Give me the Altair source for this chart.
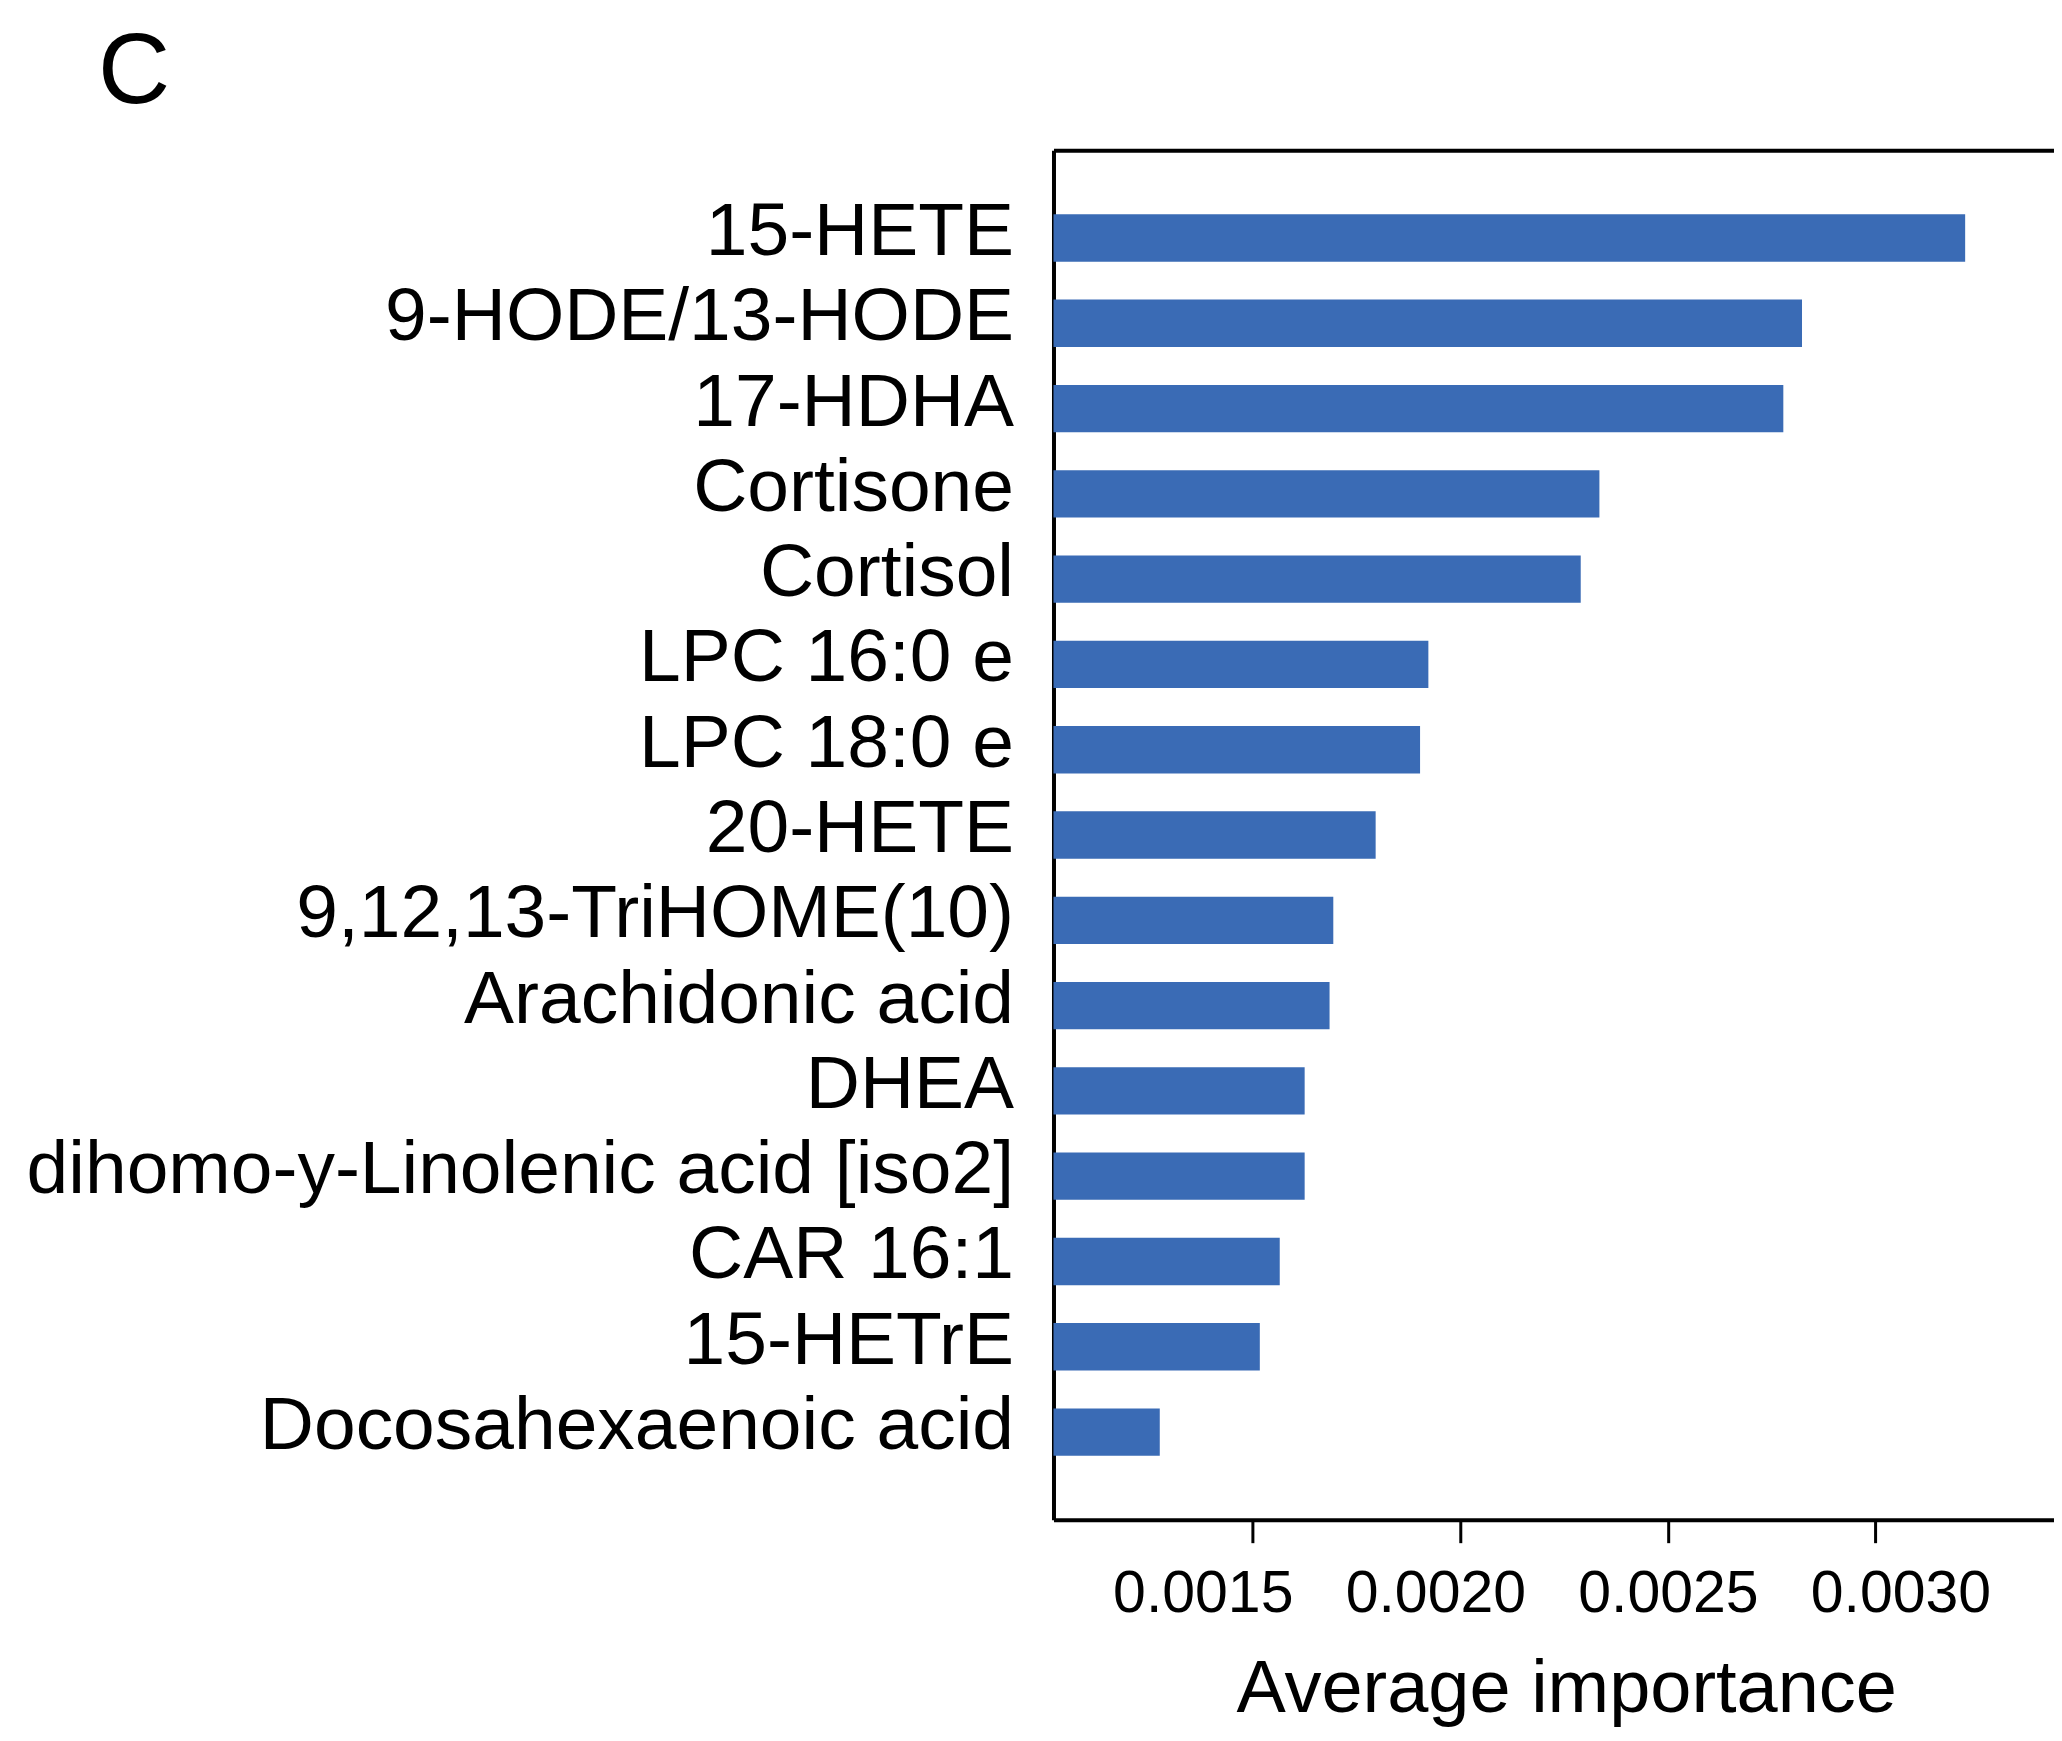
import altair as alt
import pandas as pd

compounds = [
    "15-HETE",
    "9-HODE/13-HODE",
    "17-HDHA",
    "Cortisone",
    "Cortisol",
    "LPC 16:0 e",
    "LPC 18:0 e",
    "20-HETE",
    "9,12,13-TriHOME(10)",
    "Arachidonic acid",
    "DHEA",
    "dihomo-y-Linolenic acid [iso2]",
    "CAR 16:1",
    "15-HETrE",
    "Docosahexaenoic acid",
]
importance = [
    0.003216, 0.002823, 0.002778, 0.002335, 0.002290,
    0.001923, 0.001903, 0.001796, 0.001694, 0.001685,
    0.001625, 0.001625, 0.001565, 0.001517, 0.001276,
]
tick_values = [0.0015, 0.0020, 0.0025, 0.0030]
x_domain = [0.00102, 0.00343]

df = pd.DataFrame({"compound": compounds, "importance": importance})

FONT = "Liberation Sans"
W, H = 1001, 1370

y_enc = alt.Y(
    "compound:N",
    sort=compounds,
    scale=alt.Scale(paddingInner=0.445, paddingOuter=0.75),
    axis=alt.Axis(
        title=None, ticks=False, labelFontSize=75, labelFont=FONT,
        labelColor="black", labelPadding=40, labelLimit=3000,
        domainColor="black", domainWidth=4, labelBaseline="middle",
        labelOffset=-6,
    ),
)

# tick labels in the reference are spread slightly wider than the ticks
label_offset = {
    "condition": [
        {"test": "datum.value < 0.00175", "value": -50},
        {"test": "datum.value < 0.00225", "value": -25},
        {"test": "datum.value > 0.00275", "value": 25},
    ],
    "value": 0,
}

bars = alt.Chart(df).mark_bar(color="#3A6BB5").encode(
    x=alt.X(
        "importance:Q",
        scale=alt.Scale(domain=x_domain, zero=False, nice=False),
        axis=alt.Axis(
            orient="bottom", values=tick_values, format=".4f",
            title="Average importance", titleFontSize=74, titleFont=FONT,
            titleFontWeight="normal", titleColor="black",
            titleX=513, titleY=192, titleBaseline="alphabetic", titleAlign="center",
            labelFontSize=59, labelFont=FONT, labelColor="black", labelLimit=1000,
            labelOffset=label_offset,
            tickSize=23, tickWidth=3, tickColor="black", labelPadding=22,
            domainColor="black", domainWidth=4, grid=False, labelFlush=False,
        ),
    ),
    x2=alt.datum(x_domain[0]),
    y=y_enc,
)

top_axis = alt.Chart(df).mark_bar(opacity=0).encode(
    x=alt.X(
        "importance:Q",
        scale=alt.Scale(domain=x_domain, zero=False, nice=False),
        axis=alt.Axis(
            orient="top", labels=False, ticks=False, title=None,
            domainColor="black", domainWidth=4, grid=False,
        ),
    ),
    x2=alt.datum(x_domain[0]),
    y=alt.Y("compound:N", sort=compounds, axis=None),
)

chart = (
    alt.layer(bars, top_axis)
    .resolve_axis(x="independent", y="independent")
    .properties(
        width=W,
        height=H,
        padding={"left": 17, "top": 15, "right": 0, "bottom": 5},
        title=alt.TitleParams(
            text="C", anchor="start", frame="group", dx=-956, offset=26,
            fontSize=100, font=FONT, fontWeight="normal", color="black",
        ),
    )
    .configure_view(stroke=None)
    .configure(background="white")
)

chart.save("out.html", embed_options={"renderer": "svg", "actions": False})
